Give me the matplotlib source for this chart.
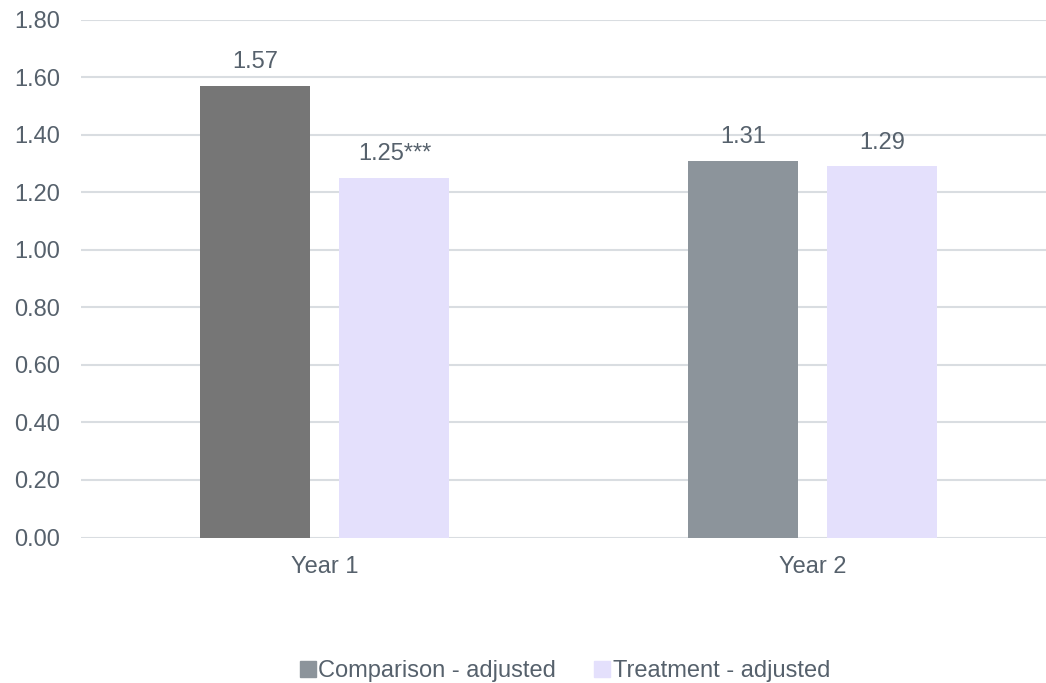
import matplotlib.pyplot as plt
from matplotlib.patches import Patch

# chart data
years = ['Year 1', 'Year 2']
comparison = [1.57, 1.31]
treatment = [1.25, 1.29]
comparison_labels = ['1.57', '1.31']
treatment_labels = ['1.25***', '1.29']
series_names = ['Comparison - adjusted', 'Treatment - adjusted']

comp_colors = ['#767676', '#8C949B']
treat_color = '#E4E0FC'
text_color = '#56616C'
grid_color = '#D9DDE1'
fs = 17

plt.rcParams['font.family'] = ['Liberation Sans', 'DejaVu Sans']

fig = plt.figure(figsize=(10.46, 6.83), dpi=100)
ax = fig.add_axes([81 / 1046, 1 - 537.5 / 683, (1056.5 - 81) / 1046, (537.5 - 19.5) / 683])

x = list(range(len(years)))
off = 0.1425
w = 0.226
b1 = ax.bar([i - off for i in x], comparison, w, color=comp_colors, zorder=3)
b2 = ax.bar([i + off for i in x], treatment, w, color=treat_color, zorder=3)

for bars, labels in [(b1, comparison_labels), (b2, treatment_labels)]:
    for rect, lab in zip(bars, labels):
        ax.annotate(lab, (rect.get_x() + rect.get_width() / 2, rect.get_height()),
                    xytext=(0, 9), textcoords='offset points', ha='center', va='bottom',
                    fontsize=fs, color=text_color)

ax.set_xlim(-0.5, 1.5)
ax.set_ylim(0, 1.8)
ax.set_yticks([i * 0.2 for i in range(10)])
ax.set_yticklabels([f'{i * 0.2:.2f}' for i in range(10)])
ax.set_xticks(x)
ax.set_xticklabels(years)
ax.tick_params(axis='both', length=0, labelsize=fs, labelcolor=text_color)
ax.tick_params(axis='y', pad=15)
ax.tick_params(axis='x', pad=13)
ax.grid(axis='y', color=grid_color, linewidth=1.5, zorder=0)
for s in ax.spines.values():
    s.set_visible(False)

handles = [Patch(color=comp_colors[1]), Patch(color=treat_color)]
fig.legend(handles, series_names, loc='center', bbox_to_anchor=(565 / 1046, 1 - 671 / 683),
           ncol=2, frameon=False, fontsize=fs, labelcolor=text_color,
           handlelength=0.68, handleheight=0.68, handletextpad=0.12, columnspacing=1.6,
           borderpad=0, borderaxespad=0)

fig.savefig('out.png', dpi=100)
